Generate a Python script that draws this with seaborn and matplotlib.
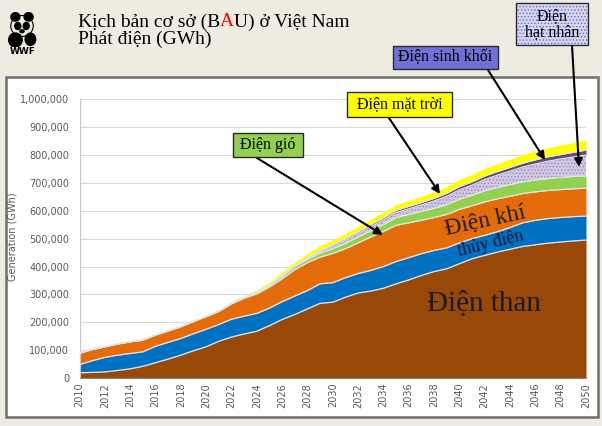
import numpy as np
import pandas as pd
import matplotlib
matplotlib.use("Agg")
import matplotlib.pyplot as plt
import seaborn as sns
from matplotlib.patches import Rectangle, Ellipse
from matplotlib.ticker import FuncFormatter

# ---------------- data (GWh) ----------------
years = list(range(2010, 2051))
coal = [19, 20, 22, 27, 33, 42, 55, 68, 82, 98, 112, 132, 147, 158, 168, 188, 210, 228, 248, 268,
        272, 290, 305, 312, 322, 338, 352, 368, 382, 392, 410, 428, 440, 452, 462, 472, 478, 484, 488, 492, 495]
hydro = [29, 42, 52, 55, 55, 52, 59, 60, 60, 61, 63, 60, 64, 64, 64, 63, 64, 66, 66, 70,
         70, 70, 70, 74, 78, 80, 80, 78, 76, 75, 75, 72, 72, 73, 78, 85, 88, 88, 88, 87, 86]
gas = [41, 40, 38, 40, 42, 42, 40, 41, 42, 44, 45, 47, 55, 64, 70, 75, 82, 95, 100, 96,
       105, 104, 110, 120, 126, 130, 125, 120, 118, 120, 120, 118, 120, 118, 112, 105, 102, 101, 100, 100, 100]
wind = [0, 0, 0, 0, 0, 0, 0, 0, 0, 0, 1, 1, 2, 3, 4, 6, 8, 10, 12, 14,
        17, 19, 21, 23, 25, 28, 30, 32, 33, 35, 37, 38, 40, 41, 42, 42, 43, 43, 44, 44, 44]
nuclear = [0, 0, 0, 0, 0, 0, 0, 0, 0, 0, 0, 0, 0, 0, 0, 0, 0, 0, 3, 5,
           8, 10, 12, 14, 16, 18, 20, 23, 26, 30, 33, 36, 40, 44, 48, 53, 57, 62, 66, 70, 75]
biomass = [0, 0, 0, 0, 0, 0, 0, 0, 0, 0, 0, 0, 0, 0, 1, 2, 3, 3, 4, 5,
           6, 7, 7, 8, 8, 8, 9, 9, 10, 11, 12, 12, 13, 13, 14, 14, 15, 16, 16, 17, 18]
solar = [0, 0, 0, 0, 0, 0, 0, 0, 0, 1, 2, 3, 5, 6, 8, 10, 12, 14, 15, 17,
         18, 18, 19, 19, 20, 20, 21, 22, 23, 24, 25, 26, 27, 28, 29, 30, 31, 32, 34, 35, 36]

series_names = ["Điện than", "Thủy điện", "Điện khí", "Điện gió",
                "Điện hạt nhân", "Điện sinh khối", "Điện mặt trời"]
x_ticks = list(range(2010, 2051, 2))
y_ticks = list(range(0, 1000001, 100000))

# ---------------- styling ----------------
sns.set_theme(style="white")
plt.rcParams['font.family'] = ['DejaVu Sans']
plt.rcParams['hatch.linewidth'] = 0.6

W, H = 602, 426
fig = plt.figure(figsize=(6.02, 4.26), dpi=100)
fig.patch.set_facecolor('#EEECE1')

def fx(px):
    return px / W

def fy(py):
    return 1 - py / H

# white slide frame (drawn beneath the axes)
fig.patches.append(Rectangle((fx(6), fy(417)), fx(598) - fx(6), fy(77) - fy(417),
                             transform=fig.transFigure, facecolor='white',
                             edgecolor='#6E6E6E', lw=1.8, zorder=-5))

ax = fig.add_axes([fx(79.5), fy(378), fx(586) - fx(79.5), fy(99.3) - fy(378)])
ax.set_facecolor('white')
ax.set_zorder(1)

df = pd.DataFrame({
    series_names[0]: coal, series_names[1]: hydro, series_names[2]: gas,
    series_names[3]: wind, series_names[4]: nuclear, series_names[5]: biomass,
    series_names[6]: solar}, index=years) * 1000
cum = df.cumsum(axis=1)

colors = ['#984807', '#0070C0', '#E36C09', '#92D050', '#D2C8E2', '#5F497A', '#FFFF00']
prev = np.zeros(len(years))
for name, color in zip(series_names, colors):
    top = cum[name].values
    if name == "Điện hạt nhân":
        ax.fill_between(years, prev, top, facecolor=color, edgecolor='#9A86BE',
                        hatch='.....', lw=0, zorder=2)
    else:
        ax.fill_between(years, prev, top, facecolor=color, lw=0, zorder=2)
    prev = top

# thin light separator lines between layers
long = cum.iloc[:, :-1].reset_index().rename(columns={'index': 'year'}).melt(
    id_vars='year', var_name='series', value_name='value')
sns.lineplot(data=long, x='year', y='value', units='series', estimator=None,
             color='#E4E4E4', lw=0.9, ax=ax, legend=False, zorder=3)

ax.set_xlim(2010, 2050)
ax.set_ylim(0, 1000000)
ax.set_xticks(x_ticks)
ax.set_xticklabels([str(y) for y in x_ticks], rotation=90)
ax.set_yticks(y_ticks)
ax.yaxis.set_major_formatter(FuncFormatter(lambda v, p: f"{int(v):,}"))
ax.tick_params(axis='both', labelsize=7, colors='#595959', length=0)
ax.tick_params(axis='y', pad=7.5)
ax.tick_params(axis='x', pad=3.5)
ax.set_xlabel('')
ax.set_ylabel('')
ax.yaxis.grid(True, color='#D9D9D9', lw=0.8)
ax.set_axisbelow(True)
sns.despine(ax=ax, top=True, right=True)
ax.spines['left'].set_color('#C8C8C8')
ax.spines['left'].set_linewidth(0.8)
ax.spines['bottom'].set_color('#868686')
ax.spines['bottom'].set_linewidth(0.8)

fig.text(fx(13), fy(237), 'Generation (GWh)', rotation=90, ha='center', va='center',
         fontsize=7, color='#595959')

# ---------------- title ----------------
serif = ['Liberation Serif', 'DejaVu Serif']
fig.canvas.draw()
r = fig.canvas.get_renderer()
x0 = fx(77.5)
for s, c in [("Kịch bản cơ sở (B", 'black'), ("A", '#FF0000'), ("U) ở Việt Nam", 'black')]:
    t = fig.text(x0, fy(26.5), s, color=c, fontsize=14, family=serif,
                 va='baseline', ha='left')
    bb = t.get_window_extent(renderer=r)
    x0 = bb.x1 / W
fig.text(fx(77.5), fy(44), "Phát điện (GWh)", color='black', fontsize=14,
         family=serif, va='baseline', ha='left')

# ---------------- WWF logo (simplified) ----------------
lax = fig.add_axes([fx(7), fy(47), fx(37) - fx(7), fy(12) - fy(47)])
lax.set_xlim(0, 1)
lax.set_ylim(0, 1)
lax.axis('off')
for (cx, cy, w, h) in [(0.28, 0.86, 0.3, 0.24), (0.72, 0.86, 0.3, 0.24),
                       (0.36, 0.6, 0.2, 0.2), (0.64, 0.6, 0.2, 0.2),
                       (0.5, 0.45, 0.14, 0.08), (0.28, 0.2, 0.45, 0.4),
                       (0.78, 0.22, 0.35, 0.35)]:
    lax.add_patch(Ellipse((cx, cy), w, h, color='black'))
lax.add_patch(Ellipse((0.5, 0.6), 0.75, 0.6, fill=False, ec='black', lw=0.8))
fig.text(fx(22.5), fy(52), 'WWF', ha='center', va='center', fontsize=6.5,
         fontweight='bold', color='black')

# ---------------- chart labels ----------------
fig.text(fx(485), fy(221), "Điện khí", rotation=12, ha='center', va='center',
         fontsize=17, family=serif, color='#1a1a1a', zorder=10)
fig.text(fx(491), fy(244), "thủy điện", rotation=14, ha='center', va='center',
         fontsize=13, family=serif, color='#101838', zorder=10)
fig.text(fx(484), fy(304), "Điện than", ha='center', va='center',
         fontsize=21, family=serif, color='#1a1a1a', zorder=10)

# ---------------- callout boxes ----------------
def box(x1, y1, x2, y2, text, fc, hatch=None, hc=None):
    rect = Rectangle((fx(x1), fy(y2)), fx(x2) - fx(x1), fy(y1) - fy(y2),
                     transform=fig.transFigure, facecolor=fc,
                     edgecolor=hc if hc else '#2a2a2a', lw=0 if hatch else 1.0,
                     hatch=hatch, zorder=5)
    fig.patches.append(rect)
    if hatch:
        fig.patches.append(Rectangle((fx(x1), fy(y2)), fx(x2) - fx(x1), fy(y1) - fy(y2),
                                     transform=fig.transFigure, fill=False,
                                     edgecolor='#2a2a2a', lw=1.0, zorder=6))
    fig.text(fx((x1 + x2) / 2), fy((y1 + y2) / 2), text, ha='center', va='center',
             fontsize=11.5, family=serif, color='black', zorder=7, linespacing=1.0)

def arrow(sx, sy, tx, ty):
    ax.annotate('', xy=(fx(tx), fy(ty)), xytext=(fx(sx), fy(sy)),
                xycoords='figure fraction', textcoords='figure fraction',
                annotation_clip=False,
                arrowprops=dict(arrowstyle='-|>', color='black', lw=1.5,
                                mutation_scale=12, shrinkA=0, shrinkB=0),
                zorder=8)

box(233, 133, 303, 157, "Điện gió", '#92D050')
box(347, 92, 452, 117, "Điện mặt trời", '#FFFF00')
box(393, 46, 498, 69, "Điện sinh khối", '#7070D6')
box(516, 3, 588, 45, "Điện\nhạt nhân", '#D6D6F2', hatch='.....', hc='#6A6AC8')

arrow(257, 158, 383, 235)
arrow(389, 118, 440, 194)
arrow(488, 70, 545, 160)
arrow(572, 45, 579, 167)

fig.savefig('out.png', dpi=100, facecolor=fig.get_facecolor())
